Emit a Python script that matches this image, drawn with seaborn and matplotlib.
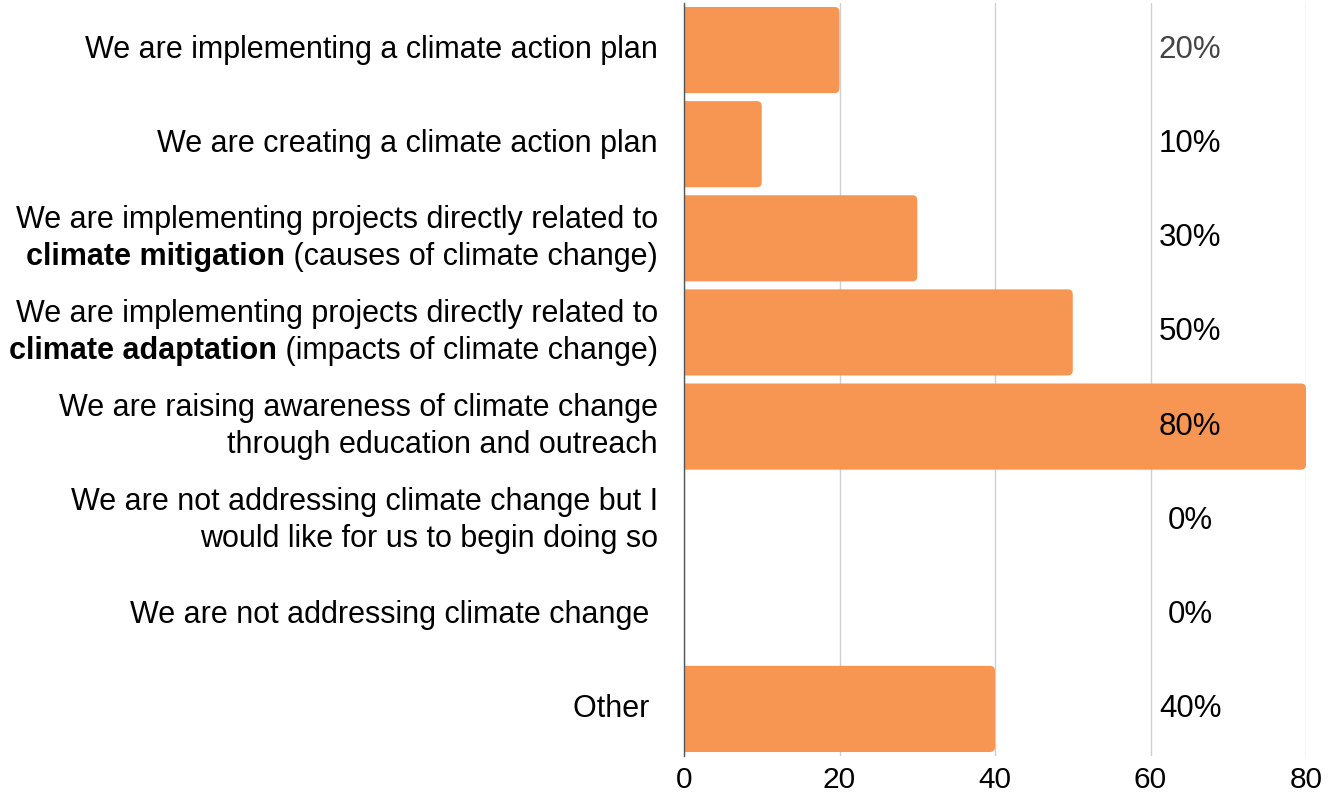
import matplotlib
matplotlib.use("Agg")
import matplotlib.pyplot as plt
from matplotlib.patches import FancyBboxPatch
import seaborn as sns
import pandas as pd

categories = [
    "We are implementing a climate action plan",
    "We are creating a climate action plan",
    "We are implementing projects directly related to\nclimate mitigation (causes of climate change)",
    "We are implementing projects directly related to\nclimate adaptation (impacts of climate change)",
    "We are raising awareness of climate change\nthrough education and outreach",
    "We are not addressing climate change but I\nwould like for us to begin doing so",
    "We are not addressing climate change ",
    "Other ",
]
values = [20, 10, 30, 50, 80, 0, 0, 40]
bold_phrases = ["climate mitigation", "climate adaptation"]
xticks = [0, 20, 40, 60, 80]

sns.set_theme(style="white")
plt.rcParams["font.family"] = ["Liberation Sans", "DejaVu Sans"]

df = pd.DataFrame({"category": categories, "value": values})

W, H = 1338, 794
fig = plt.figure(figsize=(W / 100, H / 100), dpi=100)
ax_l, ax_r, ax_t, ax_b = 684, 1306, 3, 756
ax = fig.add_axes([ax_l / W, 1 - ax_b / H, (ax_r - ax_l) / W, (ax_b - ax_t) / H])

bar_color = "#F79552"
sns.barplot(data=df, y="category", x="value", orient="h", color=bar_color,
            saturation=1, width=0.915, ax=ax)

ax.set_xlim(0, 80)
ax.set_ylim(len(categories) - 0.5, -0.5)

# rounded right ends of the bars
px_per_x = (ax_r - ax_l) / 80
px_per_y = (ax_b - ax_t) / len(categories)
radius = 5 / px_per_x
for p in list(ax.patches):
    x0, y0, w, h = p.get_x(), p.get_y(), p.get_width(), p.get_height()
    p.set_visible(False)
    if w <= 0:
        continue
    fb = FancyBboxPatch((x0 - 2 * radius, y0), w + 2 * radius, h,
                        boxstyle=f"round,pad=0,rounding_size={radius}",
                        mutation_aspect=px_per_x / px_per_y,
                        facecolor=bar_color, edgecolor="none", zorder=2)
    ax.add_patch(fb)

ax.set_xticks(xticks)
ax.set_xticklabels([str(t) for t in xticks], fontsize=21.5, color="black")
ax.tick_params(axis="x", length=0, pad=7)
ax.set_xlabel("")
ax.set_ylabel("")
ax.set_yticks(range(len(categories)))
ax.set_yticklabels([""] * len(categories))
ax.tick_params(axis="y", length=0)
ax.set_axisbelow(True)
ax.grid(axis="x", color="#d0d0d0", linewidth=1)
ax.grid(axis="y", visible=False)
for s in ["top", "right", "bottom"]:
    ax.spines[s].set_visible(False)
ax.spines["left"].set_color("#555555")
ax.spines["left"].set_linewidth(1)
ax.spines["left"].set_zorder(3)

# category labels with partial bold
fs = 22
line_gap = 37  # pixels between lines
for i, cat in enumerate(categories):
    lines = cat.split("\n")
    n = len(lines)
    for j, line in enumerate(lines):
        dy = ((n - 1) / 2 - j) * line_gap
        bold = None
        for bp in bold_phrases:
            if line.startswith(bp):
                bold = bp
        if bold is None:
            ax.annotate(line, xy=(0, i), xycoords="data", xytext=(-26, dy),
                        textcoords="offset pixels", ha="right", va="center",
                        fontsize=fs, color="black", annotation_clip=False)
        else:
            rest = line[len(bold):]
            t = ax.annotate(rest, xy=(0, i), xycoords="data", xytext=(-26, dy),
                            textcoords="offset pixels", ha="right", va="center",
                            fontsize=fs, color="black", annotation_clip=False)
            ax.annotate(bold, xy=(0, 0.5), xycoords=t, ha="right", va="center",
                        fontsize=fs, fontweight="bold", color="black",
                        annotation_clip=False)

# value labels
for i, v in enumerate(values):
    ax.text(65.1, i, f"{v}%", ha="center", va="center", fontsize=22.5,
            color="#444444" if i == 0 else "black", zorder=4)

fig.savefig("out.png", dpi=100)
